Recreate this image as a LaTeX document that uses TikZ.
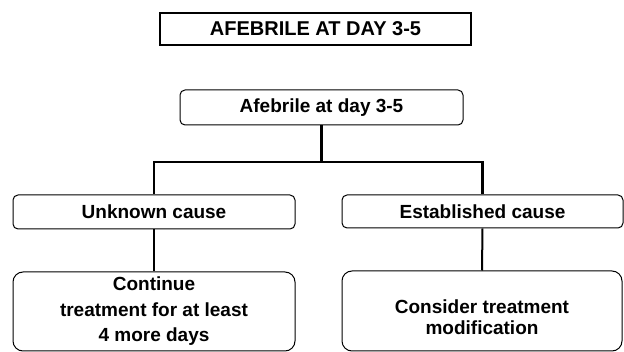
\documentclass[tikz,border=0pt]{standalone}
\usepackage{fontspec}
\setmainfont{Liberation Sans}
\begin{document}
\begin{tikzpicture}[x=1pt,y=-1pt,
  every node/.style={font=\bfseries},
  titlebox/.style={draw,line width=1.1pt,rectangle,inner sep=0pt,font=\fontsize{20}{24}\selectfont\bfseries},
  midbox/.style={draw,line width=1pt,rectangle,rounded corners=5pt,inner sep=0pt,font=\fontsize{19}{23}\selectfont\bfseries},
  bigbox/.style={draw,line width=1pt,rectangle,rounded corners=10pt,inner sep=0pt,align=center},
  conn/.style={line width=2.4pt},
  conn2/.style={line width=2pt}]
\useasboundingbox (0,0) rectangle (624,352);
\node[titlebox,minimum width=311pt,minimum height=32pt] (title) at (315.5,29) {AFEBRILE AT DAY 3-5};
\node[midbox,minimum width=283pt,minimum height=35pt] (top) at (321.5,107.5) {Afebrile at day 3-5};
\node[midbox,minimum width=282pt,minimum height=34pt] (lm) at (154,212) {Unknown cause};
\node[midbox,minimum width=281pt,minimum height=33pt] (rm) at (482.5,211.5) {Established cause};
\node[bigbox,minimum width=282pt,minimum height=79pt,font=\fontsize{19}{25.5}\selectfont\bfseries] (lb) at (154,311.5) {Continue\\treatment for at least\\4 more days};
\node[bigbox,minimum width=280pt,minimum height=80pt,
  label={[font=\fontsize{19}{20.7}\selectfont\bfseries,align=center,yshift=-6pt]center:Consider treatment\\modification}] (rb) at (482,311) {};
\coordinate (j) at (321.5,162);
\draw[conn] (top.south) -- (j);
\draw[conn] (lm.north) |- (j) -| (rm.north);
\draw[conn2] (lm.south) -- (lb.north);
\draw[conn2] (rm.south) -- (rb.north);
\end{tikzpicture}
\end{document}
